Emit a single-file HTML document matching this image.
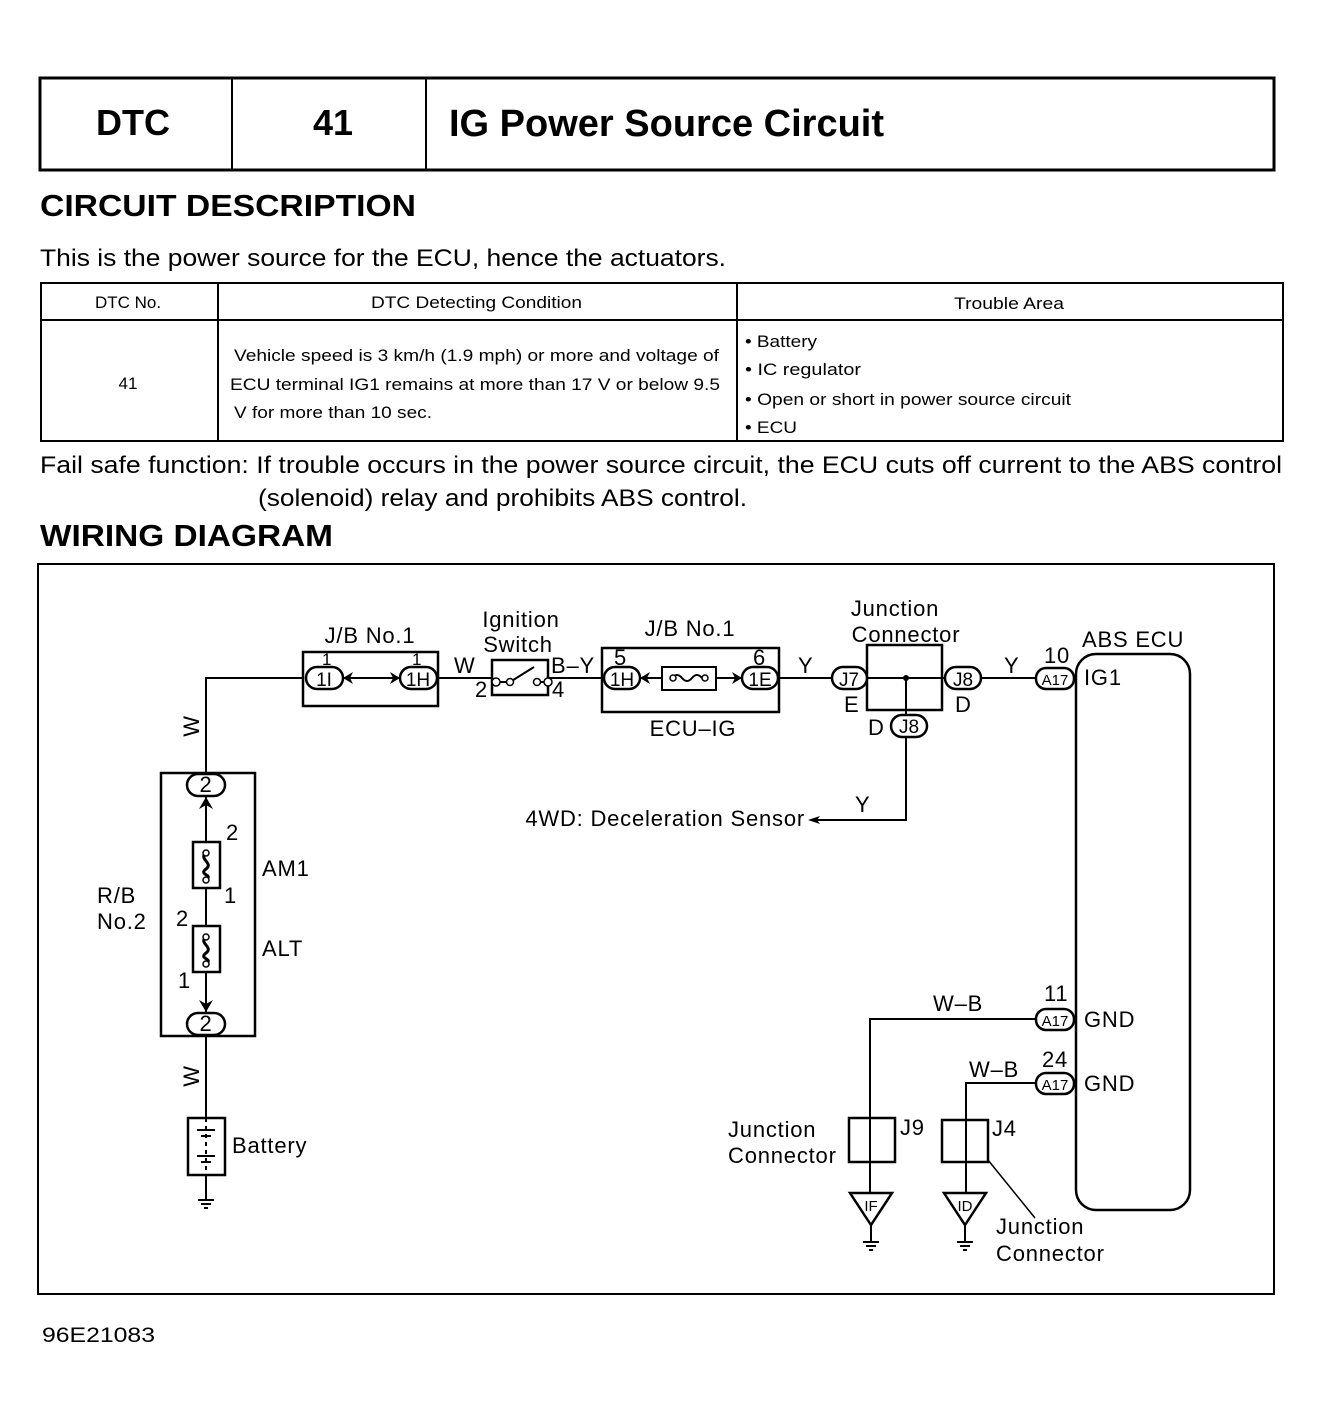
<!DOCTYPE html>
<html><head><meta charset="utf-8"><style>
body{margin:0;background:#fff;}
svg{display:block;font-family:"Liberation Sans",Arial,sans-serif;}
</style></head><body>
<svg width="1322" height="1418" viewBox="0 0 1322 1418" xmlns="http://www.w3.org/2000/svg">
<rect width="1322" height="1418" fill="#fff"/>
<g fill="none" stroke="#000">
<rect x="40" y="78" width="1234" height="92" stroke-width="3"/>
<line x1="232" y1="78" x2="232" y2="170" stroke-width="2"/>
<line x1="426" y1="78" x2="426" y2="170" stroke-width="2"/>
<rect x="41" y="283" width="1242" height="158" stroke-width="2"/>
<line x1="41" y1="320" x2="1283" y2="320" stroke-width="2"/>
<line x1="218" y1="283" x2="218" y2="441" stroke-width="2"/>
<line x1="737" y1="283" x2="737" y2="441" stroke-width="2"/>
<rect x="38" y="564" width="1236" height="730" stroke-width="2"/>
</g>
<g fill="#000">
<text x="133" y="135" font-size="36" font-weight="bold" text-anchor="middle">DTC</text>
<text x="333" y="135" font-size="36" font-weight="bold" text-anchor="middle">41</text>
<text x="449" y="136" font-size="38" font-weight="bold">IG Power Source Circuit</text>
<text x="40" y="216" font-size="31" font-weight="bold" textLength="376" lengthAdjust="spacingAndGlyphs">CIRCUIT DESCRIPTION</text>
<text x="40" y="266" font-size="24" textLength="686" lengthAdjust="spacingAndGlyphs">This is the power source for the ECU, hence the actuators.</text>
<g font-size="17">
<text x="128" y="308" text-anchor="middle">DTC No.</text>
<text x="371" y="308" textLength="211" lengthAdjust="spacingAndGlyphs">DTC Detecting Condition</text>
<text x="954" y="309" textLength="110" lengthAdjust="spacingAndGlyphs">Trouble Area</text>
<text x="128" y="389" text-anchor="middle">41</text>
<text x="234" y="361" textLength="485" lengthAdjust="spacingAndGlyphs">Vehicle speed is 3 km/h (1.9 mph) or more and voltage of</text>
<text x="230" y="390" textLength="490" lengthAdjust="spacingAndGlyphs">ECU terminal IG1 remains at more than 17 V or below 9.5</text>
<text x="234" y="418" textLength="198" lengthAdjust="spacingAndGlyphs">V for more than 10 sec.</text>
<text x="745" y="347" textLength="72" lengthAdjust="spacingAndGlyphs">• Battery</text>
<text x="745" y="375" textLength="116" lengthAdjust="spacingAndGlyphs">• IC  regulator</text>
<text x="745" y="405" textLength="326" lengthAdjust="spacingAndGlyphs">• Open or short in power source circuit</text>
<text x="745" y="433" textLength="52" lengthAdjust="spacingAndGlyphs">• ECU</text>
</g>
<text x="40" y="473" font-size="24" textLength="1242" lengthAdjust="spacingAndGlyphs">Fail safe function: If trouble occurs in the power source circuit, the ECU cuts off current to the ABS control</text>
<text x="258" y="506" font-size="24" textLength="489" lengthAdjust="spacingAndGlyphs">(solenoid) relay and prohibits ABS control.</text>
<text x="40" y="546" font-size="31" font-weight="bold" textLength="293" lengthAdjust="spacingAndGlyphs">WIRING DIAGRAM</text>
<text x="42" y="1342" font-size="21" textLength="113" lengthAdjust="spacingAndGlyphs">96E21083</text>
</g>
<g fill="none" stroke="#000" stroke-width="2">
<polyline points="206,773 206,678 303,678"/>
<line x1="438" y1="678" x2="492" y2="678"/>
<line x1="548" y1="678" x2="602" y2="678"/>
<line x1="779" y1="678" x2="832" y2="678"/>
<line x1="981" y1="678" x2="1036" y2="678"/>
<line x1="867" y1="678" x2="945" y2="678"/>
<rect x="303" y="652" width="135" height="54" stroke-width="2.5"/>
<line x1="343" y1="678" x2="400" y2="678"/>
<rect x="492" y="660" width="56" height="35" stroke-width="2.5"/>
<line x1="498" y1="682" x2="510" y2="682"/>
<line x1="510" y1="682" x2="534" y2="667"/>
<line x1="539" y1="682" x2="548" y2="682"/>
<rect x="602" y="648" width="177" height="64" stroke-width="2.5"/>
<line x1="640" y1="678" x2="742" y2="678"/>
<rect x="662" y="667" width="54" height="23" fill="#fff"/>
<path d="M672,678 q5,-6 10,0 t10,0 t10,0" />
<rect x="867" y="645" width="75" height="65" stroke-width="2.5"/>
<polyline points="906,678 906,715"/>
<polyline points="906,737 906,820 815,820"/>
<rect x="1076" y="654" width="114" height="556" rx="20" stroke-width="2.5"/>
<rect x="161" y="773" width="94" height="263" stroke-width="2.5"/>
<line x1="206" y1="797" x2="206" y2="1012"/>
<rect x="193" y="842" width="27" height="46" fill="#fff" stroke-width="2.5"/>
<rect x="193" y="926" width="27" height="46" fill="#fff" stroke-width="2.5"/>
<path d="M206,853 c-8,6 8,10 0,16 c-8,6 8,6 0,10" stroke-width="3"/>
<path d="M206,937 c-8,6 8,10 0,16 c-8,6 8,6 0,10" stroke-width="3"/>
<line x1="206" y1="1036" x2="206" y2="1118"/>
<rect x="188" y="1118" width="37" height="57" stroke-width="2.5"/>
<line x1="206" y1="1175" x2="206" y2="1200"/>
<line x1="206" y1="1118" x2="206" y2="1175" stroke-dasharray="4,4"/>
<polyline points="1036,1019 870,1019 870,1193"/>
<polyline points="1036,1083 966,1083 966,1193"/>
<rect x="849" y="1118" width="46" height="44" fill="none" stroke-width="2.5"/>
<rect x="942" y="1120" width="46" height="42" fill="none" stroke-width="2.5"/>
<line x1="988" y1="1160" x2="1035" y2="1218" stroke-width="1.5"/>
<path d="M850,1193 L892,1193 L871,1225 Z" stroke-width="2.5"/>
<path d="M944,1193 L986,1193 L965,1225 Z" stroke-width="2.5"/>
<line x1="871" y1="1225" x2="871" y2="1242"/>
<line x1="965" y1="1225" x2="965" y2="1242"/>
</g>
<g stroke="#000" stroke-width="2">
<line x1="197" y1="1130" x2="215" y2="1130"/><line x1="201" y1="1136" x2="211" y2="1136"/>
<line x1="197" y1="1156" x2="215" y2="1156"/><line x1="201" y1="1162" x2="211" y2="1162"/>
<line x1="198" y1="1200" x2="214" y2="1200"/><line x1="201" y1="1204" x2="211" y2="1204"/><line x1="204" y1="1208" x2="208" y2="1208"/>
<line x1="863" y1="1242" x2="879" y2="1242"/><line x1="866" y1="1246" x2="876" y2="1246"/><line x1="869" y1="1250" x2="873" y2="1250"/>
<line x1="957" y1="1242" x2="973" y2="1242"/><line x1="960" y1="1246" x2="970" y2="1246"/><line x1="963" y1="1250" x2="967" y2="1250"/>
</g>
<g fill="#fff" stroke="#000" stroke-width="1.5">
<circle cx="496" cy="682" r="4"/><circle cx="510" cy="682" r="3.5"/><circle cx="537" cy="682" r="3.5"/><circle cx="548" cy="682" r="4"/>
<circle cx="673" cy="678" r="3"/><circle cx="705" cy="678" r="3"/>
<circle cx="206" cy="853" r="3"/><circle cx="206" cy="880" r="3"/>
<circle cx="206" cy="937" r="3"/><circle cx="206" cy="964" r="3"/>
</g>
<g fill="#000">
<path d="M343,678 l10,-6 l-3,6 l3,6 z"/>
<path d="M400,678 l-10,-6 l3,6 l-3,6 z"/>
<path d="M640,678 l10,-6 l-3,6 l3,6 z"/>
<path d="M742,678 l-10,-6 l3,6 l-3,6 z"/>
<path d="M206,797 l-7,12 l7,-4 l7,4 z"/>
<path d="M206,1012 l-7,-12 l7,4 l7,-4 z"/>
<path d="M808,820 l12,-4 l-3,4 l3,4 z"/>
<circle cx="906" cy="678" r="3"/>
</g>
<g fill="#fff" stroke="#000" stroke-width="2.5">
<rect x="306" y="667" width="37" height="22" rx="11"/>
<rect x="400" y="667" width="37" height="22" rx="11"/>
<rect x="604" y="667" width="36" height="22" rx="11"/>
<rect x="742" y="667" width="36" height="22" rx="11"/>
<rect x="832" y="667" width="35" height="22" rx="11"/>
<rect x="945" y="667" width="36" height="22" rx="11"/>
<rect x="891" y="715" width="36" height="22" rx="11"/>
<rect x="1036" y="668" width="38" height="21" rx="10"/>
<rect x="1036" y="1009" width="38" height="21" rx="10"/>
<rect x="1036" y="1073" width="38" height="21" rx="10"/>
<rect x="187" y="774" width="38" height="22" rx="11"/>
<rect x="187" y="1013" width="38" height="22" rx="11"/>
</g>
<g fill="#000" font-size="19">
<text x="324" y="686" text-anchor="middle">1I</text>
<text x="418" y="686" text-anchor="middle">1H</text>
<text x="622" y="686" text-anchor="middle">1H</text>
<text x="760" y="686" text-anchor="middle">1E</text>
<text x="849" y="686" text-anchor="middle">J7</text>
<text x="963" y="686" text-anchor="middle">J8</text>
<text x="909" y="733" text-anchor="middle">J8</text>
<text x="1055" y="685" text-anchor="middle" font-size="15">A17</text>
<text x="1055" y="1026" text-anchor="middle" font-size="15">A17</text>
<text x="1055" y="1090" text-anchor="middle" font-size="15">A17</text>
<text x="871" y="1211" text-anchor="middle" font-size="15">IF</text>
<text x="965" y="1211" text-anchor="middle" font-size="15">ID</text>
</g>
<g fill="#000" font-size="22" letter-spacing="0.8">
<text x="206" y="792" text-anchor="middle">2</text>
<text x="206" y="1031" text-anchor="middle">2</text>
<text x="370" y="643" text-anchor="middle">J/B No.1</text>
<text x="322" y="665" font-size="17">1</text>
<text x="412" y="665" font-size="17">1</text>
<text x="521" y="627" text-anchor="middle">Ignition</text>
<text x="518" y="652" text-anchor="middle">Switch</text>
<text x="454" y="673">W</text>
<text x="475" y="697">2</text>
<text x="551" y="673">B–Y</text>
<text x="552" y="697">4</text>
<text x="690" y="636" text-anchor="middle">J/B No.1</text>
<text x="614" y="665">5</text>
<text x="753" y="665">6</text>
<text x="693" y="736" text-anchor="middle">ECU–IG</text>
<text x="798" y="673">Y</text>
<text x="895" y="616" text-anchor="middle">Junction</text>
<text x="906" y="642" text-anchor="middle">Connector</text>
<text x="844" y="712">E</text>
<text x="955" y="712">D</text>
<text x="868" y="735">D</text>
<text x="1004" y="673">Y</text>
<text x="1044" y="663">10</text>
<text x="1082" y="647">ABS ECU</text>
<text x="1084" y="685">IG1</text>
<text x="855" y="812">Y</text>
<text x="805" y="826" text-anchor="end">4WD: Deceleration Sensor</text>
<text x="226" y="840">2</text>
<text x="262" y="876">AM1</text>
<text x="224" y="903">1</text>
<text x="176" y="926">2</text>
<text x="262" y="956">ALT</text>
<text x="178" y="988">1</text>
<text x="97" y="903">R/B</text>
<text x="97" y="929">No.2</text>
<text x="232" y="1153">Battery</text>
<text x="933" y="1011">W–B</text>
<text x="1044" y="1001">11</text>
<text x="1084" y="1027">GND</text>
<text x="969" y="1077">W–B</text>
<text x="1042" y="1067">24</text>
<text x="1084" y="1091">GND</text>
<text x="728" y="1137">Junction</text>
<text x="728" y="1163">Connector</text>
<text x="900" y="1135">J9</text>
<text x="992" y="1136">J4</text>
<text x="996" y="1234">Junction</text>
<text x="996" y="1261">Connector</text>
<text transform="translate(199,726) rotate(-90)" text-anchor="middle">W</text>
<text transform="translate(199,1076) rotate(-90)" text-anchor="middle">W</text>
</g>
</svg>
</body></html>
